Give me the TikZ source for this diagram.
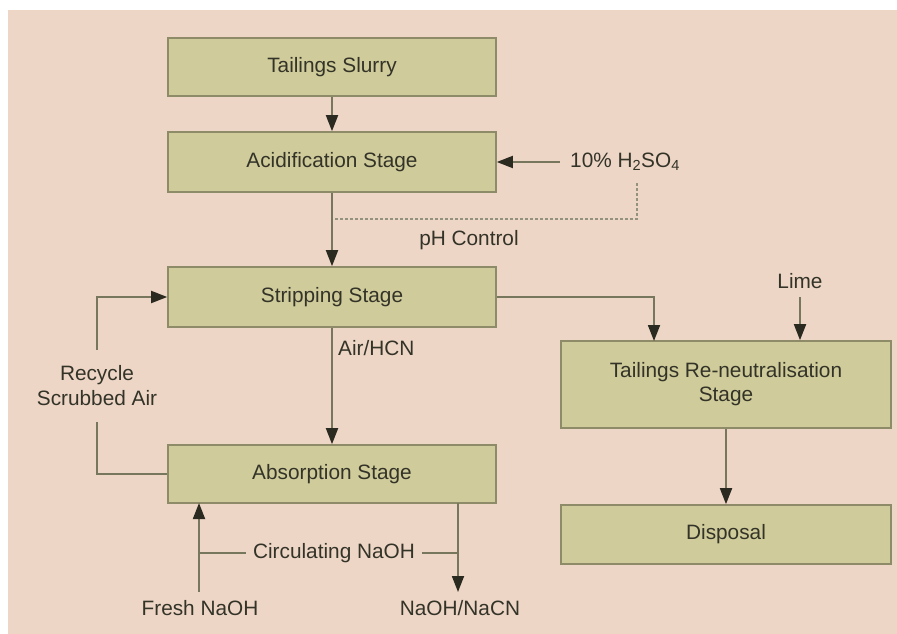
\documentclass[tikz,border=0pt]{standalone}
\usepackage{fontspec}
\setmainfont{Liberation Sans}
\usetikzlibrary{arrows.meta}
\definecolor{bg}{HTML}{EED6C6}
\definecolor{boxfill}{HTML}{CFCB9A}
\definecolor{boxline}{HTML}{8E8C68}
\definecolor{wire}{HTML}{77775E}
\definecolor{txt}{HTML}{333328}
\definecolor{tip}{HTML}{2A2A20}
\tikzset{
  stagebox/.style={draw=boxline, line width=1.6pt, fill=boxfill, text=txt,
    font=\fontsize{20.8}{24}\selectfont, align=center, inner sep=0pt},
  lbl/.style={text=txt, font=\fontsize{20.8}{25}\selectfont, align=center, inner sep=0pt},
  flow/.style={draw=wire, line width=1.8pt},
  tipped/.style={flow, -{Triangle[length=16pt,width=12pt,color=tip]}},
  ctrl/.style={draw=wire!80, line width=1.2pt, dash pattern=on 3pt off 2pt},
}
\begin{document}
\begin{tikzpicture}[x=1pt,y=-1pt]
\useasboundingbox (0,0) rectangle (897,634);
\fill[white] (0,0) rectangle (897,634);
\fill[bg] (8,10) rectangle (897,634);

% boxes
\node[stagebox, minimum width=328pt, minimum height=58pt] (ts) at (332,67) {Tailings Slurry};
\node[stagebox, minimum width=328pt, minimum height=60pt] (acid) at (332,162) {Acidification Stage};
\node[stagebox, minimum width=328pt, minimum height=60pt] (strip) at (332,297) {Stripping Stage};
\node[stagebox, minimum width=328pt, minimum height=58pt] (abs) at (332,474) {Absorption Stage};
\node[stagebox, minimum width=330pt, minimum height=87pt] (reneut) at (726,384.5) {Tailings Re-neutralisation\\Stage};
\node[stagebox, minimum width=330pt, minimum height=59pt] (disp) at (726,534.5) {Disposal};

% labels
\node[lbl, anchor=west] (acidin) at (570,162) {10\% H\textsubscript{2}SO\textsubscript{4}};
\node[lbl] (ph) at (469,240) {pH Control};
\node[lbl, anchor=west] (air) at (338,348) {Air/HCN};
\node[lbl] (lime) at (800,281) {Lime};
\node[lbl, minimum height=72pt] (recyc) at (97,386) {Recycle\\Scrubbed Air};
\node[lbl] (fresh) at (200,608) {Fresh NaOH};
\node[lbl] (out) at (460,608) {NaOH/NaCN};
\node[lbl, fill=bg, inner xsep=7pt, inner ysep=2pt] (circ) at (334,553) {Circulating NaOH};

% named free ends
\coordinate (dashtop) at (637,183);
\coordinate (dashjoin) at (331,219);
\coordinate (acidfrom) at (560,162);
\coordinate (limefrom) at (800,297);
\coordinate (reneutin) at (654,341);
\coordinate (freshfrom) at (199,592);
\coordinate (freshto) at (199,503);
\coordinate (circleft) at (199,553);
\coordinate (outfrom) at (458,503);
\coordinate (outto) at (458,592);
\coordinate (circright) at (458,553);

% connectors
\draw[tipped] (ts) -- (acid);
\draw[tipped] (acidfrom) -- (acid.east);
\draw[ctrl] (dashtop) |- (dashjoin);
\draw[tipped] (acid) -- (strip);
\draw[tipped] (strip) -- (abs);
\draw[tipped] (strip.east) -| (reneutin);
\draw[tipped] (limefrom) -- (reneut.north -| limefrom);
\draw[tipped] (reneut.south -| disp.north) -- (disp.north);
\draw[flow] (abs.west) -| (recyc.south);
\draw[tipped] (recyc.north) |- (strip.west);
\draw[tipped] (freshfrom) -- (freshto);
\draw[flow] (circleft) -- (circ.west);
\draw[flow] (circ.east) -- (circright);
\draw[tipped] (outfrom) -- (outto);
\end{tikzpicture}
\end{document}
